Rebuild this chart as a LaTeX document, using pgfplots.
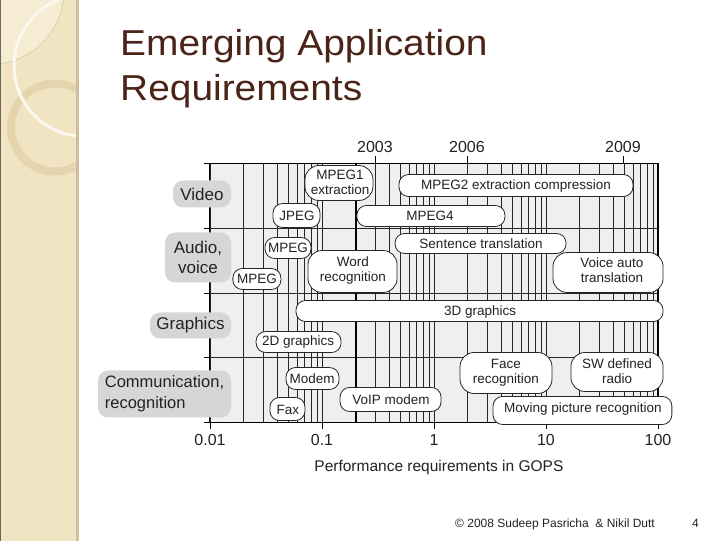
\documentclass[border=0pt]{standalone}
\usepackage{fontspec}
\setmainfont{Liberation Sans}
\newfontfamily\titlefont[FakeStretch=1.08]{Liberation Sans}
\usepackage{pgfplots}
\pgfplotsset{compat=1.18}
\definecolor{titlebrown}{HTML}{4A2417}
\definecolor{stripc}{HTML}{F1E4C2}
\definecolor{stripl}{HTML}{F5ECD3}
\definecolor{stripd}{HTML}{D6C59C}
\definecolor{ringc}{HTML}{E4D5AE}
\definecolor{edgec}{HTML}{CDBF9C}
\definecolor{plotbg}{HTML}{EFEFEF}
\definecolor{catgray}{HTML}{D6D6D6}
\definecolor{txt}{HTML}{222222}
\tikzset{
  bubble/.style={draw=black!85, fill=white, line width=0.8pt, rounded corners=9.5pt, line cap=round, line join=round},
  bubble2/.style={draw=black!85, fill=white, line width=0.8pt, rounded corners=14pt, line cap=round, line join=round},
  btext/.style={font=\fontsize{13.5}{15}\selectfont, text=txt, align=center, inner sep=0pt},
  cat/.style={fill=catgray, rounded corners=10pt, inner sep=0pt, text=txt, font=\fontsize{17}{20}\selectfont},
}
\begin{document}
\begin{tikzpicture}
\begin{scope}[x=1pt,y=1pt]
\fill[white] (0,0) rectangle (720,540);
% decorative strip
\begin{scope}
\clip (0,0) rectangle (76,540);
\fill[stripc] (0,0) rectangle (76,540);
\fill[stripl] (-10,550) circle (74);
\draw[stripd, line width=0.5pt] (-10,550) circle (74);
\draw[ringc, line width=8pt] (55,413) circle (44);
\draw[white!75!stripc, line width=3pt] (85,475) circle (71);
\end{scope}
\fill[edgec] (76,0) rectangle (78.5,540);
\draw[black!55!stripc, line width=1pt] (0.5,0) -- (0.5,540);
% title
\node[anchor=base west, inner sep=0pt, text=titlebrown, font=\titlefont\fontsize{36}{40}\selectfont] at (120,485) {Emerging Application};
\node[anchor=base west, inner sep=0pt, text=titlebrown, font=\titlefont\fontsize{36}{40}\selectfont] at (120,440) {Requirements};
% footer
\node[anchor=base west, inner sep=0pt, text=txt, font=\fontsize{12}{14}\selectfont] at (455,13) {© 2008 Sudeep Pasricha\ \ \& Nikil Dutt};
\node[anchor=base west, inner sep=0pt, text=txt, font=\fontsize{12}{14}\selectfont] at (692,13) {4};
\end{scope}

\begin{axis}[
  at={(210pt,118pt)}, anchor=south west,
  scale only axis, width=448pt, height=259pt,
  xmode=log, xmin=0.01, xmax=100, ymin=0, ymax=4,
  clip=false,
  axis background/.style={fill=plotbg},
  xmajorgrids, xminorgrids, ymajorgrids,
  major grid style={black!85, line width=0.6pt},
  minor grid style={black!85, line width=0.6pt},
  xtick={0.01,0.1,1,10,100},
  xticklabels={0.01,0.1,1,10,100},
  ytick={0,1,2,3,4}, yticklabels={},
  xtick pos=left, ytick pos=left,
  tick align=outside, major tick length=6pt, minor tick length=0pt,
  tick style={black, line width=0.8pt},
  axis line style={black, line width=1pt},
  tick label style={font=\fontsize{16}{18}\selectfont, text=txt},
  xticklabel style={yshift=-2pt},
  xlabel={Performance requirements in GOPS},
  xlabel style={font=\fontsize{15.5}{18}\selectfont, text=txt, at={(axis description cs:0.511,0)}, anchor=center, yshift=-45pt},
]
% emphasised 0.2 grid line and right border
\addplot[black, line width=1.8pt] coordinates {(0.2,0) (0.2,4)};
\addplot[black, line width=1.8pt] coordinates {(100,0) (100,4)};
% Video
\addplot[bubble2] coordinates {(0.0705,3.699) (0.0705,3.429) (0.285,3.429) (0.285,3.969) (0.0705,3.969) (0.0705,3.699)};
\addplot[bubble] coordinates {(0.0365,3.197) (0.0365,3.012) (0.0960,3.012) (0.0960,3.382) (0.0365,3.382) (0.0365,3.197)};
\addplot[bubble] coordinates {(0.487,3.660) (0.487,3.490) (59.8,3.490) (59.8,3.830) (0.487,3.830) (0.487,3.660)};
\addplot[bubble] coordinates {(0.205,3.189) (0.205,3.027) (4.30,3.027) (4.30,3.351) (0.205,3.351) (0.205,3.189)};
% Audio, voice
\addplot[bubble] coordinates {(0.0310,2.695) (0.0310,2.533) (0.0798,2.533) (0.0798,2.857) (0.0310,2.857) (0.0310,2.695)};
\addplot[bubble] coordinates {(0.0160,2.216) (0.0160,2.054) (0.0430,2.054) (0.0430,2.378) (0.0160,2.378) (0.0160,2.216)};
\addplot[bubble] coordinates {(0.449,2.765) (0.449,2.610) (15.1,2.610) (15.1,2.919) (0.449,2.919) (0.449,2.765)};
\addplot[bubble2] coordinates {(0.0750,2.332) (0.0750,2.008) (0.468,2.008) (0.468,2.656) (0.0750,2.656) (0.0750,2.332)};
\addplot[bubble2] coordinates {(11.55,2.317) (11.55,2.008) (111,2.008) (111,2.625) (11.55,2.625) (11.55,2.317)};
% Graphics
\addplot[bubble] coordinates {(0.0586,1.722) (0.0586,1.560) (111,1.560) (111,1.884) (0.0586,1.884) (0.0586,1.722)};
\addplot[bubble] coordinates {(0.0258,1.243) (0.0258,1.081) (0.148,1.081) (0.148,1.405) (0.0258,1.405) (0.0258,1.243)};
% Communication, recognition
\addplot[bubble] coordinates {(0.0477,0.680) (0.0477,0.510) (0.142,0.510) (0.142,0.849) (0.0477,0.849) (0.0477,0.680)};
\addplot[bubble] coordinates {(0.0343,0.209) (0.0343,0.031) (0.0705,0.031) (0.0705,0.386) (0.0343,0.386) (0.0343,0.209)};
\addplot[bubble] coordinates {(0.145,0.356) (0.145,0.170) (1.155,0.170) (1.155,0.541) (0.145,0.541) (0.145,0.356)};
\addplot[bubble2] coordinates {(1.71,0.765) (1.71,0.448) (11.3,0.448) (11.3,1.081) (1.71,1.081) (1.71,0.765)};
\addplot[bubble2] coordinates {(16.7,0.780) (16.7,0.479) (111,0.479) (111,1.081) (16.7,1.081) (16.7,0.780)};
\addplot[bubble] coordinates {(3.37,0.186) (3.37,-0.031) (133,-0.031) (133,0.402) (3.37,0.402) (3.37,0.186)};
% labels
\node[btext] at (axis cs:0.145,3.707) {MPEG1\\extraction};
\node[btext] at (axis cs:0.0598,3.197) {JPEG};
\node[btext] at (axis cs:5.40,3.660) {MPEG2 extraction compression};
\node[btext] at (axis cs:0.921,3.197) {MPEG4};
\node[btext] at (axis cs:0.0496,2.703) {MPEG};
\node[btext] at (axis cs:0.0263,2.224) {MPEG};
\node[btext] at (axis cs:0.189,2.347) {Word\\recognition};
\node[btext] at (axis cs:2.63,2.764) {Sentence translation};
\node[btext] at (axis cs:38.8,2.347) {Voice auto\\translation};
\node[btext] at (axis cs:2.58,1.714) {3D graphics};
\node[btext] at (axis cs:0.0611,1.236) {2D graphics};
\node[btext] at (axis cs:0.0815,0.680) {Modem};
\node[btext] at (axis cs:0.0496,0.201) {Fax};
\node[btext] at (axis cs:0.413,0.355) {VoIP modem};
\node[btext] at (axis cs:4.39,0.772) {Face\\recognition};
\node[btext] at (axis cs:43.1,0.788) {SW defined\\radio};
\node[btext] at (axis cs:21.4,0.201) {Moving picture recognition};
\end{axis}

% year ticks on top
\begin{axis}[
  at={(210pt,118pt)}, anchor=south west,
  scale only axis, width=448pt, height=259pt,
  xmode=log, xmin=0.01, xmax=100, ymin=0, ymax=4,
  hide y axis, axis line style={draw=none},
  xtick={0.297,1.97,48.7}, xticklabels={2003,2006,2009},
  xtick pos=right, xticklabel pos=right,
  tick align=outside, major tick length=7pt, minor tick length=0pt,
  tick style={black, line width=0.8pt},
  tick label style={font=\fontsize{16}{18}\selectfont, text=txt},
]
\end{axis}

% category labels
\begin{scope}[x=1pt,y=1pt]
\node[cat, minimum width=58pt, minimum height=27pt] at (202,346.5) {Video};
\node[cat, minimum width=66pt, minimum height=50pt, align=center] at (198,283) {Audio,\\voice};
\node[cat, minimum width=81pt, minimum height=26pt] at (190.5,215) {Graphics};
\node[cat, minimum width=133pt, minimum height=47pt, align=left, font=\fontsize{16.5}{21}\selectfont] at (164.5,146.5) {Communication,\\recognition};
\end{scope}
\end{tikzpicture}
\end{document}
